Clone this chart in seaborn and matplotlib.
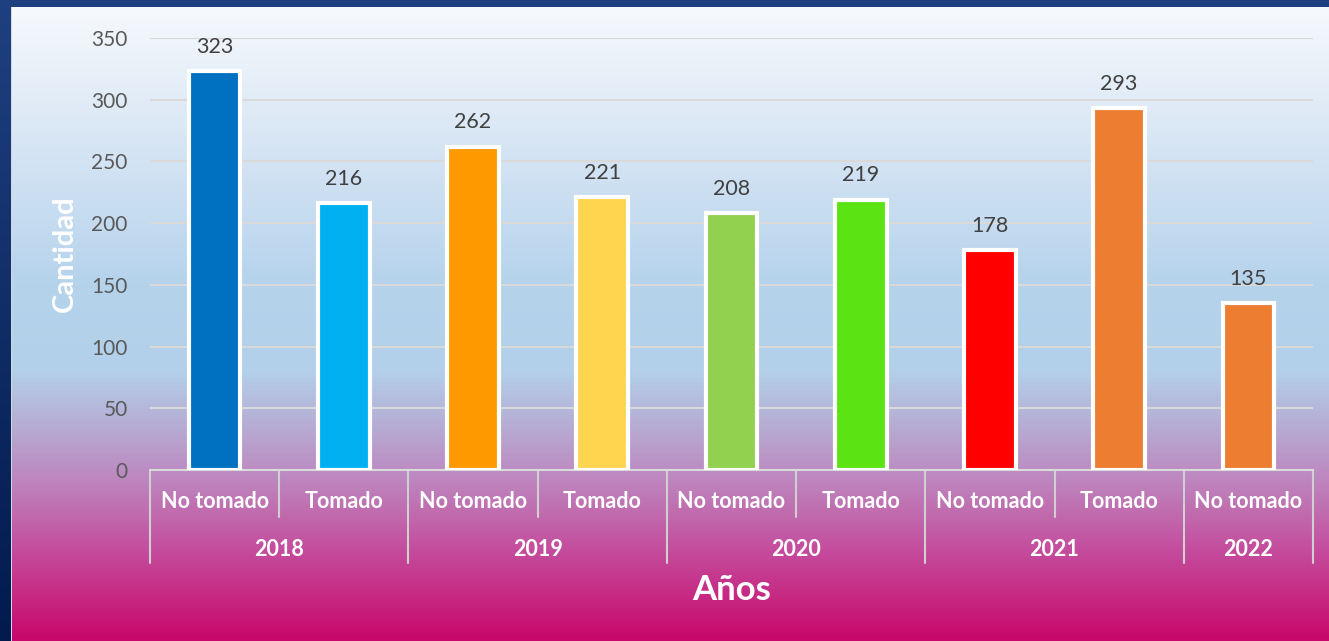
import numpy as np
import pandas as pd
import matplotlib
matplotlib.use("Agg")
import matplotlib.pyplot as plt
from matplotlib.colors import LinearSegmentedColormap
import seaborn as sns

years = ['2018', '2018', '2019', '2019', '2020', '2020', '2021', '2021', '2022']
status = ['No tomado', 'Tomado', 'No tomado', 'Tomado', 'No tomado', 'Tomado',
          'No tomado', 'Tomado', 'No tomado']
values = [323, 216, 262, 221, 208, 219, 178, 293, 135]
bar_colors = ['#0070C0', '#00B0F0', '#FF9900', '#FFD44F', '#92D050', '#5CE314',
              '#FF0000', '#ED7D31', '#ED7D31']
y_ticks = [0, 50, 100, 150, 200, 250, 300, 350]

df = pd.DataFrame({'Año': years, 'Estado': status, 'Cantidad': values})
df['key'] = df['Año'] + ' ' + df['Estado']

sns.set_theme(style="white")
plt.rcParams['font.family'] = ['Lato', 'DejaVu Sans']

W, H = 1329, 641
fig = plt.figure(figsize=(W / 100, H / 100), dpi=100)

# background gradient panel with navy frame
bg = fig.add_axes([0, 0, 1, 1])
stops = [(0.0, '#f8fafd'), (0.23, '#d6e5f4'), (0.44, '#b6d3ec'), (0.58, '#b3d0ea'),
         (0.68, '#b7a6d0'), (0.75, '#bd86be'), (0.87, '#c5489a'), (1.0, '#c8086a')]
cmap = LinearSegmentedColormap.from_list('bgc', stops)
grad = cmap(np.linspace(0, 1, H))[:, None, :3] * np.ones((1, W, 1))
navy = LinearSegmentedColormap.from_list('nv', ['#1f4080', '#021a4e'])
left_col = navy(np.linspace(0, 1, H))[:, :3]
grad[:, :11, :] = left_col[:, None, :]
grad[:7, :, :] = np.array([0x1f, 0x40, 0x80]) / 255
grad[7:, 11, :] = np.array([0xd0, 0xd8, 0xe4]) / 255
bg.imshow(grad, aspect='auto', extent=[0, W, H, 0])
bg.set_axis_off()

# main axes
x0, x1, y0, y1 = 150, 1313, 470, 38
ax = fig.add_axes([x0 / W, 1 - y0 / H, (x1 - x0) / W, (y0 - y1) / H])
ax.patch.set_alpha(0)

sns.barplot(data=df, x='key', y='Cantidad', hue='key', palette=bar_colors,
            legend=False, width=0.4, edgecolor='white', linewidth=3, ax=ax,
            saturation=1, zorder=3)

ax.set_ylim(0, 350)
ax.set_xlim(-0.5, len(values) - 0.5)
ax.set_yticks(y_ticks)
ax.set_yticklabels([str(t) for t in y_ticks], color='#595959', fontsize=15)
ax.tick_params(axis='y', length=0, pad=16)
ax.yaxis.grid(True, color='#d9d9d9', linewidth=1.5, zorder=0)
ax.set_axisbelow(True)
for s in ['top', 'right', 'left']:
    ax.spines[s].set_visible(False)
ax.spines['bottom'].set_color('#d9d9d9')
ax.spines['bottom'].set_linewidth(1.5)
ax.set_xticks([])
ax.set_xlabel('')
ax.set_ylabel('')

for i, v in enumerate(values):
    ax.annotate(str(v), (i, v), xytext=(0, 17.5), textcoords='offset points',
                ha='center', va='center', fontsize=15.5, color='#404040')

# multi-level category axis
tr = ax.get_xaxis_transform()
line_kw = dict(color='#d0d0d0', lw=1.5, transform=tr, clip_on=False)
n = len(values)
for i in range(n + 1):
    xb = i - 0.5
    if i == 0 or i == n or years[i] != years[i - 1]:
        ax.plot([xb, xb], [0, -93 / 432], **line_kw)
    else:
        ax.plot([xb, xb], [0, -47 / 432], **line_kw)
for i, s in enumerate(status):
    ax.text(i, -31 / 432, s, transform=tr, ha='center', va='center',
            color='white', fontsize=15.5, fontweight='bold')
for yr in dict.fromkeys(years):
    idx = [i for i, y in enumerate(years) if y == yr]
    ax.text(np.mean(idx), -79 / 432, yr, transform=tr, ha='center', va='center',
            color='white', fontsize=15.5, fontweight='bold')

fig.text(732 / W, 1 - 590 / H, 'Años', ha='center', va='center', color='white',
         fontsize=25, fontweight='bold')
fig.text(65 / W, 1 - 254 / H, 'Cantidad', ha='center', va='center', color='white',
         fontsize=21, fontweight='bold', rotation=90)

fig.savefig('out.png', dpi=100)
